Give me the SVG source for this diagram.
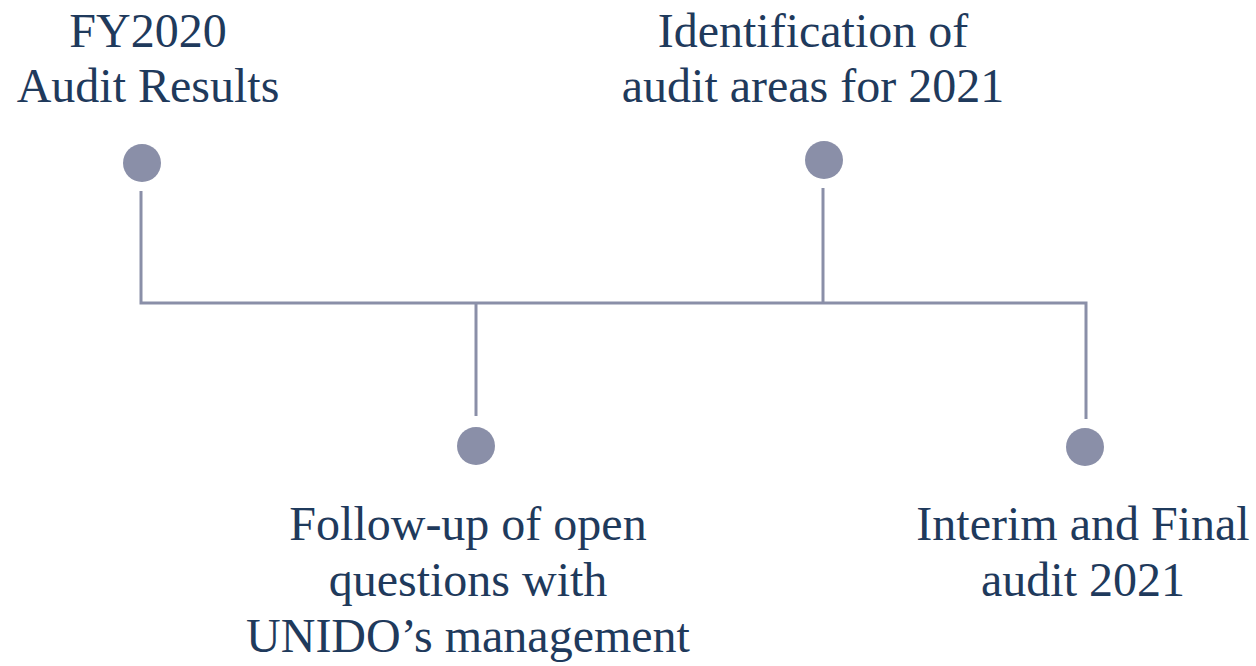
<svg xmlns="http://www.w3.org/2000/svg" width="1256" height="666" viewBox="0 0 1256 666">
<style>
.t{font-family:"Liberation Serif","Times New Roman",serif;font-size:48px;fill:#1F3A5C;text-anchor:middle}
.d{fill:#8A8FA8}
.c{stroke:#8A8FA8;stroke-width:3;fill:none}
</style>
<rect width="1256" height="666" fill="#FFFFFF"/>
<g id="connectors">
<path class="c" d="M141 191 V303 H1086 V419"/>
<path class="c" d="M823 188 V303"/>
<path class="c" d="M476 303 V416"/>
</g>
<g id="node1">
<circle class="d" cx="142" cy="163" r="19"/>
<text class="t" x="148" y="47">FY2020</text>
<text class="t" x="148" y="102">Audit Results</text>
</g>
<g id="node2">
<circle class="d" cx="476" cy="446" r="19"/>
<text class="t" x="468" y="540">Follow-up of open</text>
<text class="t" x="468" y="596">questions with</text>
<text class="t" x="468" y="652">UNIDO’s management</text>
</g>
<g id="node3">
<circle class="d" cx="824" cy="160" r="19"/>
<text class="t" x="813" y="47">Identification of</text>
<text class="t" x="813" y="102">audit areas for 2021</text>
</g>
<g id="node4">
<circle class="d" cx="1085" cy="447" r="19"/>
<text class="t" x="1083" y="540">Interim and Final</text>
<text class="t" x="1083" y="596">audit 2021</text>
</g>
</svg>
